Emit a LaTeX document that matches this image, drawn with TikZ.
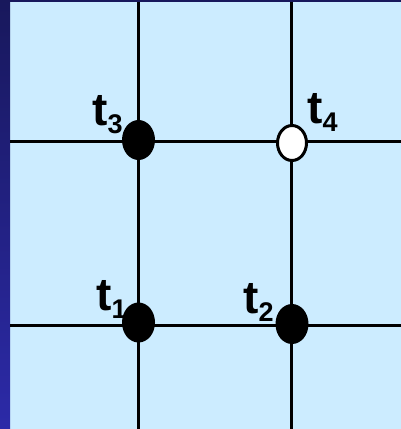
\documentclass[tikz,border=0pt]{standalone}
\usepackage{fontspec}
\setmainfont{Liberation Sans}
\usetikzlibrary{shapes.geometric}
\definecolor{paleblue}{RGB}{204,236,255}
\definecolor{navytop}{RGB}{24,24,92}
\definecolor{navybot}{RGB}{44,42,168}
\newcommand{\tlab}[1]{t\raisebox{-8pt}{\fontsize{27}{27}\selectfont #1}}

\begin{document}
\begin{tikzpicture}[x=1pt,y=-1pt,
   grid line/.style={line width=3pt,black},
   fulldot/.style={ellipse,fill=black,minimum width=33pt,minimum height=40pt,inner sep=0pt},
   emptydot/.style={ellipse,draw=black,line width=3pt,fill=white,minimum width=29pt,minimum height=35pt,inner sep=0pt},
   tname/.style={anchor=base west,inner sep=0pt,font=\fontsize{46}{46}\selectfont\bfseries}]
  \useasboundingbox (0,0) rectangle (401,429);
  % background and side bar
  \fill[paleblue] (0,0) rectangle (401,429);
  \shade[top color=navytop,bottom color=navybot] (0,0) rectangle (10,429);
  \fill[navytop] (0,0) rectangle (401,2);
  % grid ends
  \coordinate (col1top) at (138,2);
  \coordinate (col1bot) at (138,429);
  \coordinate (col2top) at (291,2);
  \coordinate (col2bot) at (291,429);
  \coordinate (row1left) at (10,141.5);
  \coordinate (row1right) at (401,141.5);
  \coordinate (row2left) at (10,325);
  \coordinate (row2right) at (401,325);
  \draw[grid line] (col1top) -- (col1bot);
  \draw[grid line] (col2top) -- (col2bot);
  \draw[grid line] (row1left) -- (row1right);
  \draw[grid line] (row2left) -- (row2right);
  % points
  \node[fulldot] (p3) at (138.5,140) {};
  \node[emptydot] (p4) at (292,143) {};
  \node[fulldot] (p1) at (138.5,322.5) {};
  \node[fulldot] (p2) at (292,324) {};
  % labels
  \node[tname] (n3) at (92,125) {\tlab{3}};
  \node[tname] (n4) at (307,123) {\tlab{4}};
  \node[tname] (n1) at (96,310) {\tlab{1}};
  \node[tname] (n2) at (243,313) {\tlab{2}};
\end{tikzpicture}
\end{document}
